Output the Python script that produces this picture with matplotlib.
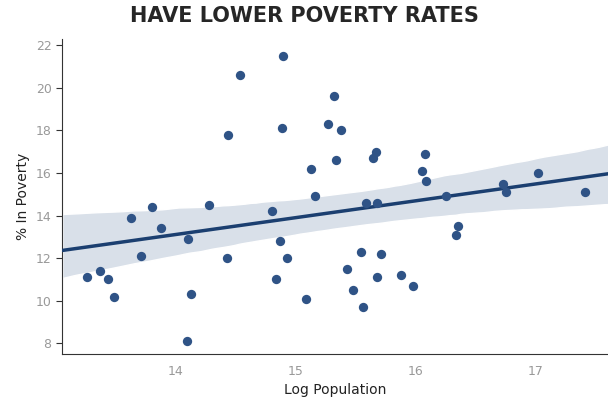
import matplotlib
matplotlib.use("Agg")
import matplotlib.pyplot as plt
import seaborn as sns
import numpy as np

log_pop = [13.27, 13.38, 13.44, 13.49, 13.63, 13.72, 13.81, 13.88, 14.11, 14.10,
           14.13, 14.43, 14.44, 14.28, 14.54, 14.81, 14.84, 14.87, 14.90, 14.89,
           14.93, 15.09, 15.13, 15.16, 15.27, 15.32, 15.34, 15.38, 15.43, 15.48,
           15.55, 15.56, 15.59, 15.65, 15.67, 15.68, 15.68, 15.71, 15.88, 15.98,
           16.05, 16.08, 16.09, 16.25, 16.35, 16.34, 16.73, 16.75, 17.02, 17.41]
poverty = [11.1, 11.4, 11.0, 10.2, 13.9, 12.1, 14.4, 13.4, 12.9, 8.1,
           10.3, 12.0, 17.8, 14.5, 20.6, 14.2, 11.0, 12.8, 21.5, 18.1,
           12.0, 10.1, 16.2, 14.9, 18.3, 19.6, 16.6, 18.0, 11.5, 10.5,
           12.3, 9.7, 14.6, 16.7, 17.0, 14.6, 11.1, 12.2, 11.2, 10.7,
           16.1, 16.9, 15.6, 14.9, 13.5, 13.1, 15.5, 15.1, 16.0, 15.1]

sns.set_style("white")
fig, ax = plt.subplots(figsize=(6.08, 4.07), dpi=100)
sns.regplot(x=np.array(log_pop), y=np.array(poverty), ax=ax, truncate=False,
            scatter_kws=dict(color="#2f5386", s=45, alpha=1, linewidths=0, zorder=5),
            line_kws=dict(color="#1b3f70", lw=2.5, zorder=4), color="#8fa3bf")
for c in ax.collections[1:]:
    c.set_facecolor("#d9e0e9")
    c.set_alpha(1)
    c.set_zorder(1)
ax.set_xlim(13.06, 17.6)
ax.set_ylim(7.5, 22.3)
ax.set_xticks([14, 15, 16, 17])
ax.set_yticks(range(8, 23, 2))
ax.tick_params(axis="both", colors="#999999", labelsize=9, length=4, left=True, bottom=False)
ax.tick_params(axis="y", color="#333333")
ax.set_xlabel("Log Population", fontsize=10, color="#222222")
ax.set_ylabel("% In Poverty", fontsize=10, color="#222222")
sns.despine(ax=ax)
ax.spines["left"].set_color("#333333")
ax.spines["bottom"].set_color("#333333")
fig.suptitle("HAVE LOWER POVERTY RATES", fontsize=15, fontweight="bold", y=0.985)
fig.subplots_adjust(left=0.102, right=1.0, top=0.905, bottom=0.13)
fig.savefig("out.png")
